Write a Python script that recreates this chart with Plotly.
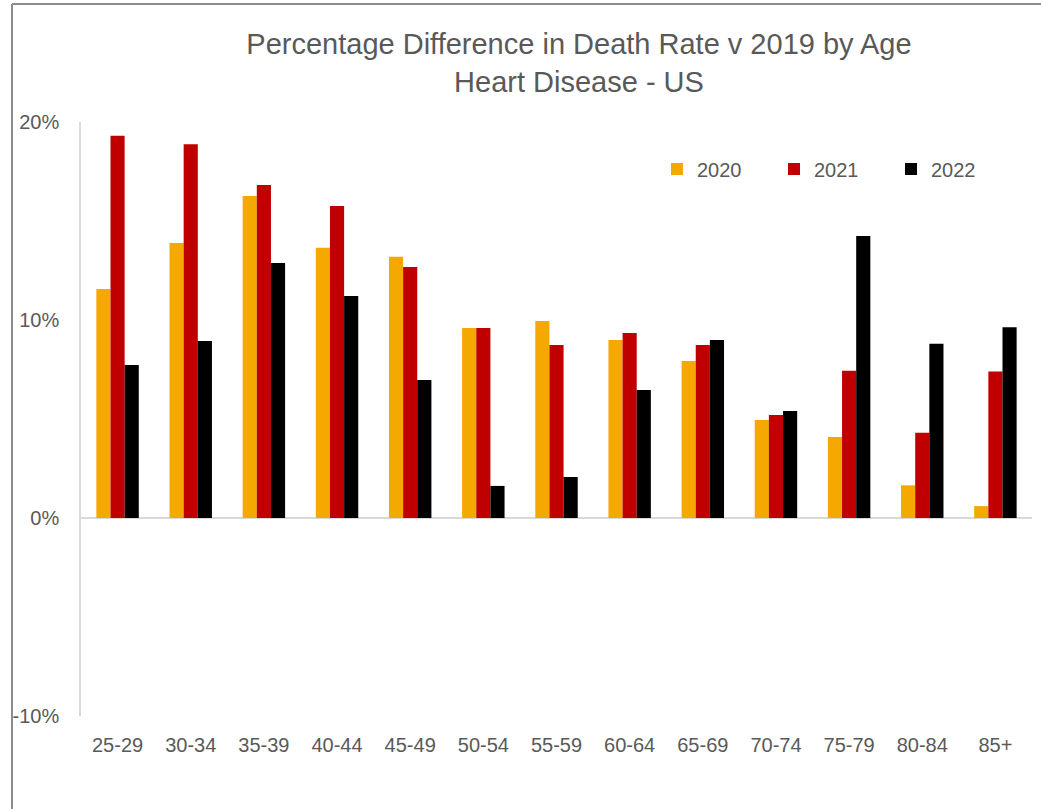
import plotly.graph_objects as go

# Age bands and percentage difference in heart disease death rate vs 2019
age_groups = ["25-29", "30-34", "35-39", "40-44", "45-49", "50-54", "55-59",
              "60-64", "65-69", "70-74", "75-79", "80-84", "85+"]
diff_2020 = [0.1157, 0.1389, 0.1626, 0.1365, 0.1320, 0.0960, 0.0995,
             0.0899, 0.0793, 0.0495, 0.0409, 0.0165, 0.0060]
diff_2021 = [0.1930, 0.1888, 0.1682, 0.1576, 0.1268, 0.0960, 0.0874,
             0.0934, 0.0874, 0.0520, 0.0744, 0.0430, 0.0740]
diff_2022 = [0.0773, 0.0894, 0.1288, 0.1121, 0.0697, 0.0162, 0.0207,
             0.0646, 0.0899, 0.0540, 0.1424, 0.0880, 0.0964]
series_names = ["2020", "2021", "2022"]
series_colors = ["#F5A800", "#C00000", "#000000"]
y_tick_values = [-0.1, 0.0, 0.1, 0.2]
y_tick_labels = ["-10%", "0%", "10%", "20%"]

fig = go.Figure()
for name, values, color in zip(series_names, [diff_2020, diff_2021, diff_2022], series_colors):
    fig.add_trace(go.Bar(
        x=age_groups, y=values, name=name,
        marker=dict(color=color, line=dict(width=0)),
    ))

W, H = 1041, 809
L, R, T, B = 81, 9, 122, 93
plot_w = W - L - R
plot_h = H - T - B

def px_to_paper_x(px):
    return (px - L) / plot_w

def px_to_paper_y(py):
    return (H - B - py) / plot_h

text_color = "#595959"

fig.update_layout(
    width=W, height=H,
    margin=dict(l=L, r=R, t=T, b=B, autoexpand=False),
    paper_bgcolor="white", plot_bgcolor="white",
    barmode="group", bargap=0.42, bargroupgap=0,
    font=dict(family="Liberation Sans, Arial, sans-serif", size=20, color=text_color),
    title=dict(
        text="Percentage Difference in Death Rate v 2019 by Age<br>Heart Disease - US",
        font=dict(family="Liberation Sans Narrow, Arial Narrow, Liberation Sans, sans-serif",
                  size=29, color=text_color),
        x=579 / W, xref="container", xanchor="center",
        y=1 - 54 / H, yref="container", yanchor="middle",
    ),
    legend=dict(
        orientation="h", x=px_to_paper_x(657), xanchor="left",
        y=px_to_paper_y(169), yanchor="middle",
        entrywidth=72, entrywidthmode="pixels", itemwidth=30,
        font=dict(size=20, color=text_color), bgcolor="rgba(0,0,0,0)",
        traceorder="normal",
    ),
    xaxis=dict(
        showgrid=False, showline=False, ticks="",
        tickfont=dict(size=20, color=text_color), ticklabelstandoff=15,
    ),
    yaxis=dict(
        range=[-0.1, 0.2], tickvals=y_tick_values, ticktext=y_tick_labels,
        showgrid=False, showline=True, linecolor="#D9D9D9", linewidth=1.5,
        zeroline=True, zerolinecolor="#D9D9D9", zerolinewidth=2,
        ticks="", ticklabelstandoff=16,
        tickfont=dict(size=20, color=text_color),
    ),
)

# Outer chart frame (top and left edges visible in the window)
frame_color = "#8C8C8C"
fig.add_shape(type="line", xref="paper", yref="paper",
              x0=px_to_paper_x(12), x1=px_to_paper_x(W + 20),
              y0=px_to_paper_y(4), y1=px_to_paper_y(4),
              line=dict(color=frame_color, width=2))
fig.add_shape(type="line", xref="paper", yref="paper",
              x0=px_to_paper_x(12), x1=px_to_paper_x(12),
              y0=px_to_paper_y(4), y1=px_to_paper_y(H + 20),
              line=dict(color=frame_color, width=2))

fig.write_html("out.html")
